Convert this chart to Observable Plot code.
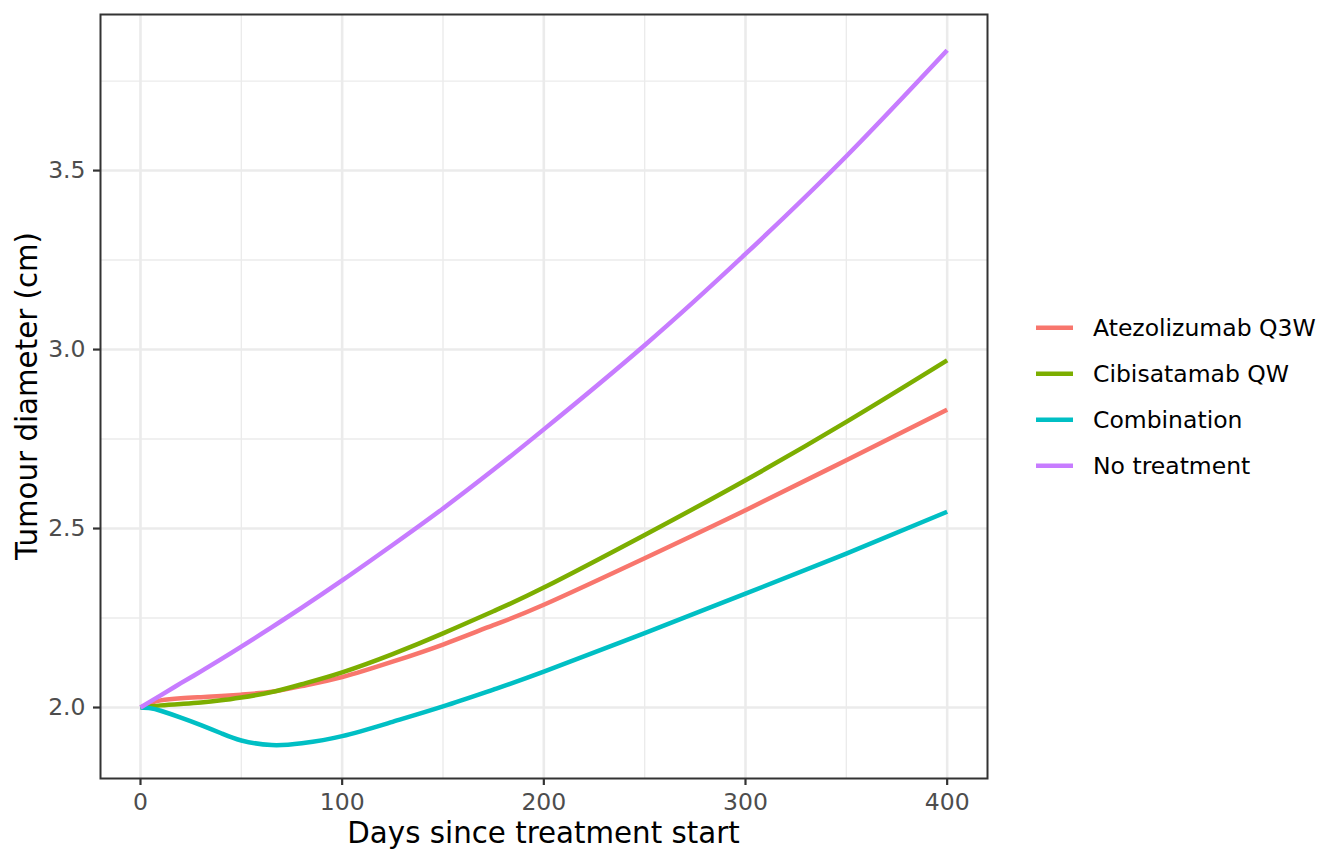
<!DOCTYPE html>
<html>
<head>
<meta charset="utf-8">
<script src="https://cdn.jsdelivr.net/npm/d3@7"></script>
<script src="https://cdn.jsdelivr.net/npm/@observablehq/plot@0.6"></script>
<style>
  html, body { margin: 0; padding: 0; background: #ffffff; }
  #chart { width: 1344px; height: 864px; }
</style>
</head>
<body>
<div id="chart"></div>
<script>
// ---- data ----
const days = [0, 5, 10, 20, 30, 40, 50, 65, 80, 100, 125, 150, 175, 200, 250, 300, 350, 400];
const atezolizumab = [2.000, 2.012, 2.020, 2.026, 2.029, 2.032, 2.036, 2.044, 2.060, 2.085, 2.128, 2.176, 2.230, 2.287, 2.417, 2.551, 2.691, 2.832];
const cibisatamab  = [2.000, 2.003, 2.006, 2.010, 2.014, 2.020, 2.028, 2.043, 2.065, 2.098, 2.149, 2.207, 2.269, 2.335, 2.482, 2.635, 2.798, 2.970];
const combination  = [2.000, 1.998, 1.991, 1.972, 1.951, 1.928, 1.908, 1.895, 1.900, 1.920, 1.960, 2.003, 2.050, 2.100, 2.208, 2.318, 2.430, 2.547];
const noTreatment  = [2.000, 2.017, 2.034, 2.068, 2.101, 2.135, 2.170, 2.224, 2.279, 2.355, 2.454, 2.556, 2.664, 2.777, 3.012, 3.267, 3.540, 3.836];

const seriesNames = ["Atezolizumab Q3W", "Cibisatamab QW", "Combination", "No treatment"];
const seriesValues = [atezolizumab, cibisatamab, combination, noTreatment];
const seriesColors = ["#F8766D", "#7CAE00", "#00BFC4", "#C77CFF"];

const xTicks = [0, 100, 200, 300, 400];
const xMinor = [50, 150, 250, 350];
const yTicks = [2.0, 2.5, 3.0, 3.5];
const yMinor = [2.25, 2.75, 3.25, 3.75];

const xLabel = "Days since treatment start";
const yLabel = "Tumour diameter (cm)";

// ---- build table ----
const rows = [];
seriesNames.forEach((name, i) => {
  days.forEach((d, j) => rows.push({treatment: name, day: d, value: seriesValues[i][j]}));
});

const W = 1344, H = 864;
const mL = 100, mR = 357, mT = 14, mB = 86;

const plot = Plot.plot({
  width: W,
  height: H,
  marginLeft: mL,
  marginRight: mR,
  marginTop: mT,
  marginBottom: mB,
  style: {fontFamily: "DejaVu Sans", fontSize: "23.5px", background: "#ffffff", overflow: "visible"},
  x: {domain: [-19.83, 420], axis: null},
  y: {domain: [1.8017, 3.936], axis: null},
  color: {domain: seriesNames, range: seriesColors},
  marks: [
    Plot.gridX(xMinor, {stroke: "#ebebeb", strokeOpacity: 1, strokeWidth: 1.4}),
    Plot.gridY(yMinor, {stroke: "#ebebeb", strokeOpacity: 1, strokeWidth: 1.4}),
    Plot.gridX(xTicks, {stroke: "#ebebeb", strokeOpacity: 1, strokeWidth: 2.6}),
    Plot.gridY(yTicks, {stroke: "#ebebeb", strokeOpacity: 1, strokeWidth: 2.6}),
    Plot.line(rows, {x: "day", y: "value", stroke: "treatment", z: "treatment",
      strokeWidth: 4.5, curve: "natural", strokeLinecap: "butt", strokeLinejoin: "round"}),
    Plot.frame({stroke: "#333333", strokeWidth: 2}),
    Plot.axisX(xTicks, {tickSize: 7, tickPadding: 8, stroke: "#333333", fill: "#4d4d4d",
      strokeWidth: 2.2, fontSize: 23.5, label: null, tickFormat: d3.format("d")}),
    Plot.axisY(yTicks, {tickSize: 7, tickPadding: 8, stroke: "#333333", fill: "#4d4d4d",
      strokeWidth: 2.2, fontSize: 23.5, label: null, tickFormat: d3.format(".1f")})
  ]
});

document.getElementById("chart").appendChild(plot);

// ---- axis titles and legend (ggplot-style, outside the panel) ----
const svg = d3.select(plot);
const panelCx = (mL + (W - mR)) / 2;
const panelCy = (mT + (H - mB)) / 2;

svg.append("text")
  .attr("x", panelCx).attr("y", 843)
  .attr("text-anchor", "middle")
  .attr("font-family", "DejaVu Sans").attr("font-size", 29.3)
  .attr("fill", "#000000")
  .text(xLabel);

svg.append("text")
  .attr("transform", `translate(37,${panelCy}) rotate(-90)`)
  .attr("text-anchor", "middle")
  .attr("font-family", "DejaVu Sans").attr("font-size", 29.3)
  .attr("fill", "#000000")
  .text(yLabel);

const legend = svg.append("g").attr("text-anchor", "start");
const legendTop = 327.7, legendStep = 46;
seriesNames.forEach((name, i) => {
  const cy = legendTop + i * legendStep;
  legend.append("line")
    .attr("x1", 1036).attr("x2", 1073).attr("y1", cy).attr("y2", cy)
    .attr("stroke", seriesColors[i]).attr("stroke-width", 4.5);
  legend.append("text")
    .attr("x", 1093).attr("y", cy).attr("dy", "0.36em")
    .attr("text-anchor", "start")
    .attr("font-family", "DejaVu Sans").attr("font-size", 23.5)
    .attr("fill", "#000000")
    .text(name);
});
</script>
</body>
</html>
